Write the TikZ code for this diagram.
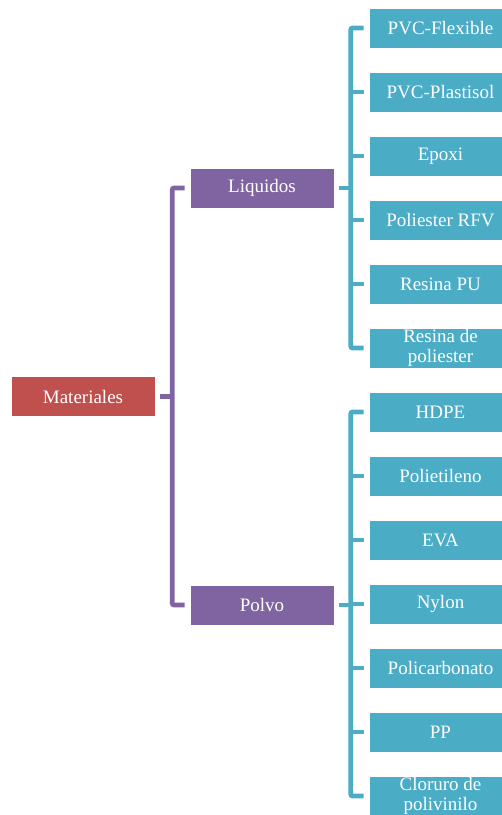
\documentclass[tikz,border=0pt]{standalone}
\usepackage{fontspec}
\setmainfont{Liberation Serif}
\definecolor{cred}{HTML}{C0504D}
\definecolor{cpur}{HTML}{8064A2}
\definecolor{cblu}{HTML}{4BACC6}
\tikzset{
  box/.style={draw=white, line width=0.6pt, text=white, inner sep=0pt, minimum height=40pt,
    font=\fontsize{19}{20.5}\selectfont, align=center},
  rootbox/.style={box, fill=cred, minimum width=144pt},
  midbox/.style={box, fill=cpur, minimum width=144pt},
  leafbox/.style={box, fill=cblu, minimum width=143pt},
  pline/.style={draw=cpur, line width=4.8pt, rounded corners=2pt},
  bline/.style={draw=cblu, line width=4.8pt, rounded corners=2pt},
}
\begin{document}
\begin{tikzpicture}[x=1pt,y=-1pt]
\useasboundingbox (0,0) rectangle (502,815);
\begin{scope}
\clip (0,0) rectangle (502,815);
\node[rootbox] (mat) at (83,396.5) {Materiales};
\node[midbox] (liq) at (262,188) {Liquidos};
\node[midbox] (pol) at (262,605) {Polvo};
\node[leafbox] (a1) at (440.5,28) {PVC-Flexible};
\node[leafbox] (a2) at (440.5,92) {PVC-Plastisol};
\node[leafbox] (a3) at (440.5,156) {Epoxi};
\node[leafbox] (a4) at (440.5,220) {Poliester RFV};
\node[leafbox] (a5) at (440.5,284) {Resina PU};
\node[leafbox] (a6) at (440.5,348) {Resina de\\poliester};
\node[leafbox] (b1) at (440.5,412) {HDPE};
\node[leafbox] (b2) at (440.5,476) {Polietileno};
\node[leafbox] (b3) at (440.5,540) {EVA};
\node[leafbox] (b4) at (440.5,604) {Nylon};
\node[leafbox] (b5) at (440.5,668) {Policarbonato};
\node[leafbox] (b6) at (440.5,732) {PP};
\node[leafbox] (b7) at (440.5,796) {Cloruro de\\polivinilo};
\end{scope}
% purple
\draw[pline] ([xshift=5]mat.east) -- ([xshift=17.5]mat.east);
\draw[pline] ([xshift=-5]liq.west) -- ([xshift=-17.5]liq.west) -- ([xshift=-17.5]pol.west) -- ([xshift=-5]pol.west);
% blue top
\draw[bline] ([xshift=5]liq.east) -- ([xshift=17]liq.east);
\draw[bline] ([xshift=-5]a1.west) -- ([xshift=-18]a1.west) -- ([xshift=-18]a6.west) -- ([xshift=-5]a6.west);
\foreach \n in {a2,a3,a4,a5} \draw[bline] ([xshift=-5]\n.west) -- ([xshift=-18]\n.west);
% blue bottom
\draw[bline] ([xshift=5]pol.east) -- ([xshift=17]pol.east);
\draw[bline] ([xshift=-5]b1.west) -- ([xshift=-18]b1.west) -- ([xshift=-18]b7.west) -- ([xshift=-5]b7.west);
\foreach \n in {b2,b3,b4,b5,b6} \draw[bline] ([xshift=-5]\n.west) -- ([xshift=-18]\n.west);
\end{tikzpicture}
\end{document}
